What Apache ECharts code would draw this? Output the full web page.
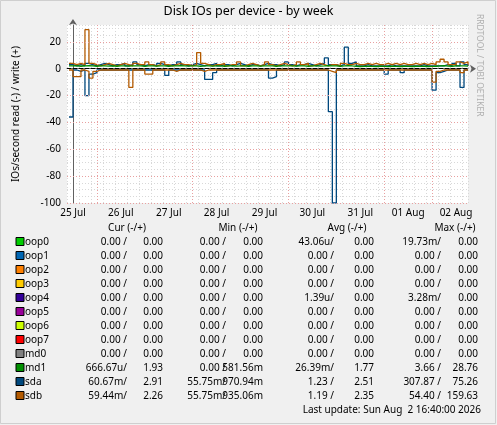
<!DOCTYPE html>
<html><head><meta charset="utf-8">
<script src="https://cdn.jsdelivr.net/npm/echarts@6/dist/echarts.min.js"></script>
<style>html,body{margin:0;padding:0;background:#f0f0f0}#c{width:497px;height:425px}</style>
</head><body><div id="c"></div>
<script>
const dayLabels = ['25 Jul','26 Jul','27 Jul','28 Jul','29 Jul','30 Jul','31 Jul','01 Aug','02 Aug'];
const dayHours = [0,24,48,72,96,120,144,168,192];
const yTicks = [-100,-80,-60,-40,-20,0,20];
const startHour = -2, stepHours = 2;
const sdaWrite = [3,2,3,2,4,3,2,3,4,3, 2,3,3,4,2,3,5,3,2,3, 3,2,4,3,2,3,3,5,3,2, 3,4,3,2,3,3,4,2,3,3, 2,3,4,3,2,3,3,2,3,4, 3,3,2,3,5,3,2,3,3,4, 3,2,3,4,8,3,3,2,3,16, 4,5,2,2,3,2,2,2,2,2, 3,2,2,2,2,2,2,2,3,2, 2,2,2,2,3,2,4,2,5,3,2];
const sdaRead = [-36,-1,-2,-1,-20,-4,-3,-1,-1,-1, -1,-1,-1,-1,-1,-1,-1,-1,-1,-1, -1,-1,-1,-1,-5,-1,-1,-1,-1,-1, -1,-1,-1,-1,-8,-8,-3,-1,-1,-1, -1,-1,-1,-1,-1,-1,-1,-1,-1,-1, -7,-6,-1,-1,-1,-1,-1,-1,-1,-1, -1,-1,-1,-1,-1,-32,-100,-1,-1,-1, -1,-1,-1,-1,-1,-1,-1,-1,-1,-4, -1,-1,-1,-3,-1,-1,-1,-1,-1,-1, -1,-16,-3,-2,-1,-1,-1,-1,-14,-1,-1];
const sdbWrite = [4,3,4,3,29,4,3,2,3,4, 3,2,3,4,3,2,4,3,3,5, 3,2,3,5,3,2,3,4,3,3, 2,3,12,4,3,2,3,3,4,2, 3,3,5,2,3,4,3,2,3,5, 3,2,3,4,3,2,3,5,3,4, 2,3,4,3,2,3,3,2,4,3, 3,4,3,3,4,3,4,3,3,4, 3,4,3,4,3,3,4,3,4,3, 4,3,5,7,5,3,3,5,4,5,3];
const sdbRead = [-1,-6,-6,-1,-2,-7,-2,-1,-1,-1, -1,-1,-1,-1,-1,-14,-1,-1,-1,-4, -4,-1,-1,-1,-1,-1,-2,-1,-1,-1, -1,-1,-1,-2,-1,-1,-1,-1,-1,-1, -1,-1,-1,-1,-1,-1,-1,-1,-1,-1, -1,-1,-1,-1,-1,-1,-1,-1,-1,-1, -1,-1,-1,-1,-1,-2,-3,-1,-1,-1, -1,-1,-1,-1,-1,-1,-1,-1,-1,-1, -1,-1,-1,-1,-1,-1,-1,-1,-1,-1, -1,-10,-2,-1,-1,-1,-1,-1,-3,-1,-1];
const md1Write = [2,2,1.8,2,2.2,2,1.8,2,2,1.9, 2,1.8,2,2,1.9,2,2.1,2,1.8,2, 2,1.9,2,2,1.8,2,2,2.2,2,1.9, 2,2,1.8,2,2,1.9,2,2,1.8,2, 2,1.9,2,2,1.8,2,2,1.9,2,2, 2,1.8,2,2,2.1,2,1.9,2,2,1.8, 2,2,1.9,2,2.2,2,2,1.8,2,2.3, 2,1.8,1.6,1.7,1.8,1.7,1.6,1.8,1.7,1.6, 1.8,1.7,1.6,1.8,1.7,1.6,1.8,1.7,1.8,1.6, 1.7,1.8,2,2.2,1.9,1.8,2,2.1,2,1.9,1.9];
const legendNames = ['oop0','oop1','oop2','oop3','oop4','oop5','oop6','oop7','md0','md1','sda','sdb'];
const legendColors = ['#00cc00','#0066b3','#ff8000','#ffcc00','#330099','#990099','#ccff00','#ff0000','#808080','#008f00','#00487d','#b35a00'];
const curVals = [['0.00 /','0.00'],['0.00 /','0.00'],['0.00 /','0.00'],['0.00 /','0.00'],['0.00 /','0.00'],['0.00 /','0.00'],['0.00 /','0.00'],['0.00 /','0.00'],['0.00 /','0.00'],['666.67u/','1.93'],['60.67m/','2.91'],['59.44m/','2.26']];
const minVals = [['0.00 /','0.00'],['0.00 /','0.00'],['0.00 /','0.00'],['0.00 /','0.00'],['0.00 /','0.00'],['0.00 /','0.00'],['0.00 /','0.00'],['0.00 /','0.00'],['0.00 /','0.00'],['0.00 /','581.56m'],['55.75m/','970.94m'],['55.75m/','935.06m']];
const avgVals = [['43.06u/','0.00'],['0.00 /','0.00'],['0.00 /','0.00'],['0.00 /','0.00'],['1.39u/','0.00'],['0.00 /','0.00'],['0.00 /','0.00'],['0.00 /','0.00'],['0.00 /','0.00'],['26.39m/','1.77'],['1.23 /','2.51'],['1.19 /','2.35']];
const maxVals = [['19.73m/','0.00'],['0.00 /','0.00'],['0.00 /','0.00'],['0.00 /','0.00'],['3.28m/','0.00'],['0.00 /','0.00'],['0.00 /','0.00'],['0.00 /','0.00'],['0.00 /','0.00'],['3.66 /','28.76'],['307.87 /','75.26'],['54.40 /','159.63']];
const redVLines = [12,60,108,156,180];

const F = 'Noto Sans';
const pts = arr => arr.map((v,i)=>[startHour+i*stepHours, v]);
function line(name, color, arr){
  return {name, type:'line', step:'end', data:pts(arr), symbol:'none', lineStyle:{color, width:1.3}, itemStyle:{color}, animation:false, z:3};
}
const graphics = [];
const fs = 10, rowY0 = 242, dy = 14;
graphics.push({type:'text', left:'center', top:5, style:{text:'Disk IOs per device - by week', font:'12.5px '+F, fill:'#000'}});
graphics.push({type:'text', x:484, y:14, rotation:-Math.PI/2, style:{text:'RRDTOOL / TOBI OETIKER', font:'8.5px '+F, fill:'#b0b0b0'}});
const hdr = [['Cur (-/+)',127],['Min (-/+)',238],['Avg (-/+)',347],['Max (-/+)',455]];
hdr.forEach(h=>graphics.push({type:'text', x:h[1], y:228, style:{text:h[0], font:fs+'px '+F, fill:'#000', align:'center', verticalAlign:'middle'}}));
const cols = [[curVals,127,163],[minVals,226,263],[avgVals,334,374],[maxVals,441,478]];
legendNames.forEach((n,i)=>{
  const y = rowY0 + i*dy;
  graphics.push({type:'rect', shape:{x:16,y:y-4.5,width:8,height:8}, style:{fill:legendColors[i], stroke:'#000', lineWidth:1}});
  graphics.push({type:'text', x:25, y, style:{text:n, font:fs+'px '+F, fill:'#000', verticalAlign:'middle'}});
  cols.forEach(c=>{
    graphics.push({type:'text', x:c[1], y, style:{text:c[0][i][0], font:fs+'px '+F, fill:'#000', align:'right', verticalAlign:'middle'}});
    graphics.push({type:'text', x:c[2], y, style:{text:c[0][i][1], font:fs+'px '+F, fill:'#000', align:'right', verticalAlign:'middle'}});
  });
});
graphics.push({type:'text', x:481, y:410, style:{text:'Last update: Sun Aug  2 16:40:00 2026', font:fs+'px '+F, fill:'#000', align:'right', verticalAlign:'middle'}});
graphics.push({type:'rect', shape:{x:0.5,y:0.5,width:495,height:423}, style:{fill:'none', stroke:'#cfcfcf', lineWidth:1}, z:-1});

const redDot = {color:'#e8a0a0', type:[1,2], width:1};
const series = [
  line('sda', '#00487d', sdaWrite),
  line('sda read', '#00487d', sdaRead),
  line('sdb', '#b35a00', sdbWrite),
  line('sdb read', '#b35a00', sdbRead),
  line('md1', '#008f00', md1Write),
  {type:'line', data:[], silent:true, animation:false,
   markLine:{symbol:'none', silent:true, label:{show:false}, lineStyle:redDot, animation:false,
     data: redVLines.map(x=>({xAxis:x})).concat(yTicks.filter(v=>v!==0).map(v=>({yAxis:v})))}, z:1},
  {type:'line', data:[], silent:true, animation:false,
   markLine:{symbol:'none', silent:true, label:{show:false}, lineStyle:{color:'#000', width:1}, animation:false,
     data:[{yAxis:0}]}, z:4}
];
const chart = echarts.init(document.getElementById('c'), null, {renderer:'canvas'});
chart.setOption({
  backgroundColor:'#f0f0f0',
  animation:false,
  grid:{left:67, right:29, top:25, bottom:222, containLabel:false, show:true, backgroundColor:'#ffffff', borderWidth:0},
  xAxis:{type:'value', min:-3, max:198, interval:6,
    axisLine:{lineStyle:{color:'#606060'}, symbol:['none','arrow'], symbolSize:[6,6], symbolOffset:[0,8]},
    axisTick:{show:false},
    splitLine:{show:true, lineStyle:{color:'#d8d8d8', type:[1,2]}},
    axisLabel:{customValues:dayHours, formatter:v=>dayLabels[dayHours.indexOf(v)]||'', color:'#000', fontFamily:F, fontSize:10, margin:5}},
  yAxis:{type:'value', min:-100, max:32.5, interval:5,
    axisLine:{show:true, lineStyle:{color:'#606060'}, symbol:['none','arrow'], symbolSize:[6,6], symbolOffset:[0,6]},
    axisTick:{show:false},
    splitLine:{show:true, lineStyle:{color:'#d8d8d8', type:[1,2]}},
    axisLabel:{customValues:yTicks, color:'#000', fontFamily:F, fontSize:10, margin:6},
    name:'IOs/second read (-) / write (+)', nameLocation:'middle', nameGap:46, nameTextStyle:{fontFamily:F, fontSize:10, color:'#000'}},
  series,
  graphic:graphics
});
</script></body></html>
